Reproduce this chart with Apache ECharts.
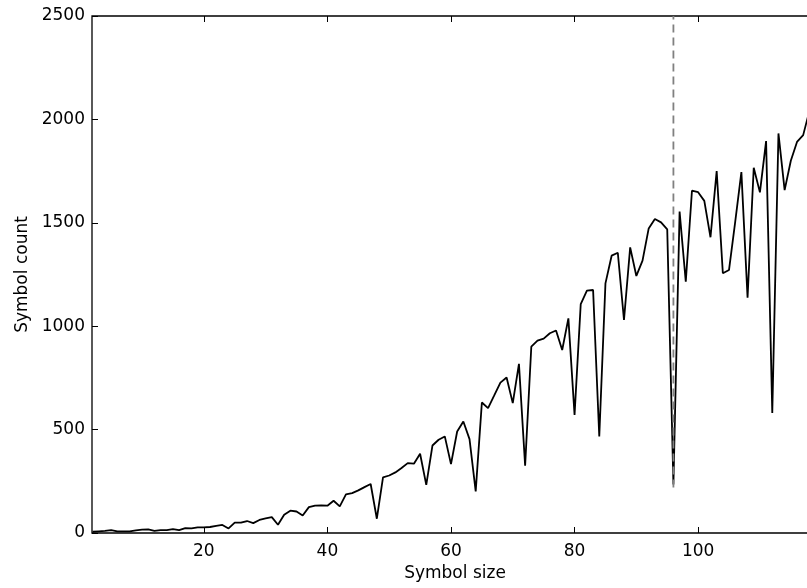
<!DOCTYPE html>
<html>
<head>
<meta charset="utf-8">
<script src="https://cdn.jsdelivr.net/npm/echarts@6/dist/echarts.min.js"></script>
<style>html,body{margin:0;padding:0;background:#fff;}#c{width:807px;height:588px;}</style>
</head>
<body>
<div id="c"></div>
<script>
const symbolSizes = [2,3,4,5,6,7,8,9,10,11,12,13,14,15,16,17,18,19,20,21,22,23,24,25,26,27,28,29,30,31,32,33,34,35,36,37,38,39,40,41,42,43,44,45,46,47,48,49,50,51,52,53,54,55,56,57,58,59,60,61,62,63,64,65,66,67,68,69,70,71,72,73,74,75,76,77,78,79,80,81,82,83,84,85,86,87,88,89,90,91,92,93,94,95,96,97,98,99,100,101,102,103,104,105,106,107,108,109,110,111,112,113,114,115,116,117,118];
const symbolCounts = [6,8,10,14,8,8,8,13,16,18,10,14,14,19,14,24,22,27,27,29,34,39,22,50,50,58,48,63,71,77,40,88,108,104,85,125,132,133,132,156,129,187,193,206,222,237,69,269,278,293,314,338,335,383,233,423,451,467,333,491,539,454,201,631,604,665,727,752,628,818,325,901,930,940,966,979,885,1038,571,1107,1172,1175,467,1207,1341,1355,1030,1381,1243,1317,1473,1518,1502,1468,235,1554,1215,1655,1648,1606,1430,1750,1256,1272,1505,1745,1138,1766,1647,1895,580,1932,1658,1800,1891,1924,2040];
const xTicks = [20,40,60,80,100];
const yTicks = [0,500,1000,1500,2000,2500];
const markerX = 96;
const markerYRange = [220, 2500];

const lineData = symbolSizes.map((s, i) => [s, symbolCounts[i]]);
const font = 'DejaVu Sans';

const chart = echarts.init(document.getElementById('c'), null, {renderer: 'canvas'});
chart.setOption({
  animation: false,
  backgroundColor: '#fff',
  grid: {left: 92, top: 16, right: -11, bottom: 55, show: true, borderColor: '#000', borderWidth: 1.3, backgroundColor: 'transparent', outerBoundsMode: 'none', containLabel: false},
  xAxis: [{
    type: 'value', min: 1.9, max: 119.4, position: 'bottom',
    name: 'Symbol size', nameLocation: 'middle', nameGap: 31,
    nameTextStyle: {fontFamily: font, fontSize: 17, color: '#000'},
    axisLine: {show: false},
    splitLine: {show: false},
    axisTick: {show: true, inside: true, length: 6, customValues: xTicks, lineStyle: {color: '#000', width: 1}},
    axisLabel: {show: true, customValues: xTicks, margin: 10, fontFamily: font, fontSize: 17, color: '#000'}
  }, {
    type: 'value', min: 1.9, max: 119.4, position: 'top',
    axisLine: {show: false},
    splitLine: {show: false},
    axisTick: {show: true, inside: true, length: 6, customValues: xTicks, lineStyle: {color: '#000', width: 1}},
    axisLabel: {show: false}
  }],
  yAxis: [{
    type: 'value', min: 0, max: 2500, interval: 500,
    name: 'Symbol count', nameLocation: 'middle', nameGap: 59,
    nameTextStyle: {fontFamily: font, fontSize: 17, color: '#000'},
    axisLine: {show: false},
    splitLine: {show: false},
    axisTick: {show: true, inside: true, length: 6, lineStyle: {color: '#000', width: 1}},
    axisLabel: {show: true, margin: 7, fontFamily: font, fontSize: 17, color: '#000', formatter: v => String(v)}
  }],
  series: [{
    type: 'line', data: lineData, showSymbol: false, symbol: 'none',
    lineStyle: {color: '#000', width: 1.8}, clip: true, z: 2
  }, {
    type: 'line', data: [[markerX, markerYRange[0]], [markerX, markerYRange[1]]], showSymbol: false, symbol: 'none',
    lineStyle: {color: '#808080', width: 1.8, type: [8, 5]}, z: 3
  }]
});
</script>
</body>
</html>
